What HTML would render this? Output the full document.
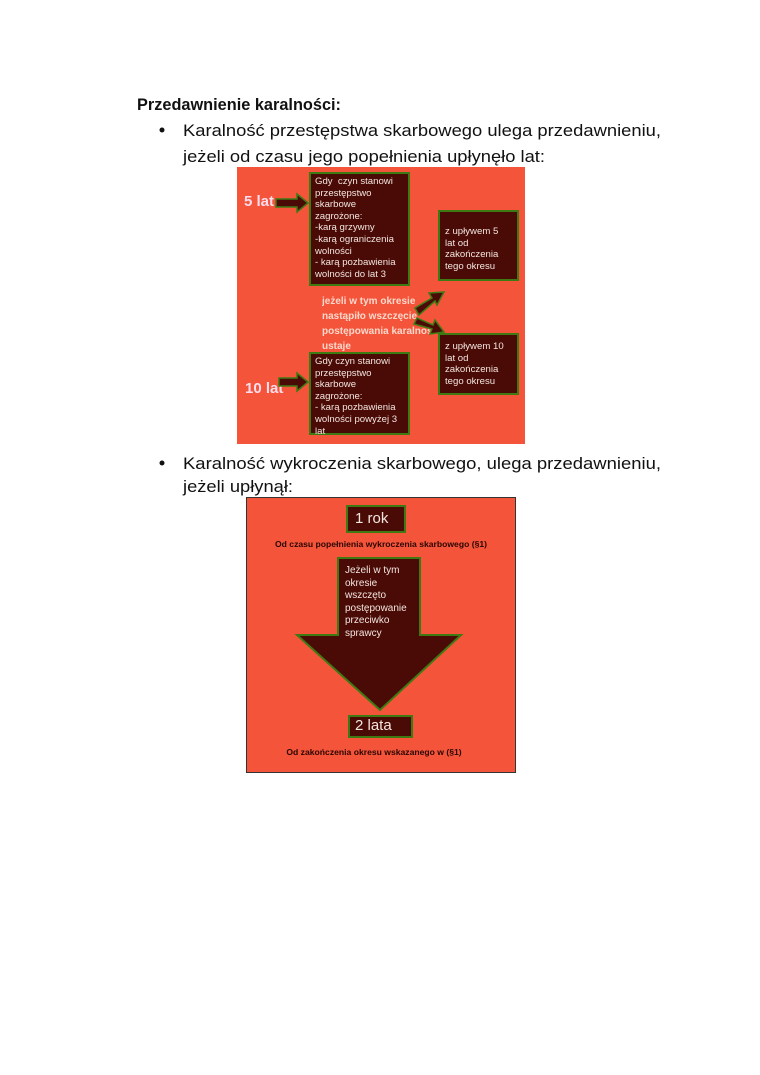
<!DOCTYPE html>
<html><head><meta charset="utf-8"><style>
body{margin:0;width:760px;height:1075px;background:#fff;position:relative;overflow:hidden;font-family:"Liberation Sans",sans-serif}
.a{position:absolute}
.box{position:absolute;background:#4a0a06;border:2px solid #3d7a12;box-sizing:border-box;color:#f3e6df;font-size:9.6px;line-height:11.6px;padding:2px 4px}
.w{color:#fde;font-weight:bold;font-size:15px}
</style></head><body>
<svg class="a" style="left:0;top:0" width="760" height="500">
<g font-family="Liberation Sans, sans-serif" font-size="17" fill="#111">
<text x="137" y="110" font-weight="bold" textLength="204" lengthAdjust="spacingAndGlyphs">Przedawnienie karalności:</text>
<circle cx="162" cy="130" r="2.5"/>
<text x="183" y="136" textLength="478" lengthAdjust="spacingAndGlyphs">Karalność przestępstwa skarbowego ulega przedawnieniu,</text>
<text x="183" y="162" textLength="362" lengthAdjust="spacingAndGlyphs">jeżeli od czasu jego popełnienia upłynęło lat:</text>
<circle cx="162" cy="463" r="2.5"/>
<text x="183" y="469" textLength="478" lengthAdjust="spacingAndGlyphs">Karalność wykroczenia skarbowego, ulega przedawnieniu,</text>
<text x="183" y="492" textLength="110" lengthAdjust="spacingAndGlyphs">jeżeli upłynął:</text>
</g></svg>

<div class="a" style="left:237px;top:167px;width:288px;height:277px;background:#f4553a"></div>
<div class="a w" style="left:244px;top:193px">5 lat</div>
<div class="a w" style="left:245px;top:380px">10 lat</div>
<div class="box" style="left:309px;top:172px;width:101px;height:114px">Gdy&nbsp; czyn stanowi przestępstwo skarbowe zagrożone:<br>-karą grzywny<br>-karą ograniczenia wolności<br>- karą pozbawienia wolności do lat 3</div>
<div class="box" style="left:438px;top:210px;width:81px;height:71px;padding:14px 8px 0 5px">z upływem 5 lat od zakończenia tego okresu</div>
<div class="box" style="left:438px;top:333px;width:81px;height:62px;padding:6px 8px 0 5px">z upływem 10 lat od zakończenia tego okresu</div>
<div class="box" style="left:309px;top:352px;width:101px;height:83px">Gdy czyn stanowi przestępstwo skarbowe zagrożone:<br>- karą pozbawienia wolności powyżej 3 lat</div>
<div class="a" style="left:322px;top:294px;color:#fbd8cc;font-size:10px;line-height:15px;font-weight:bold;width:125px;overflow:hidden;white-space:nowrap">jeżeli w tym okresie<br>nastąpiło wszczęcie<br>postępowania karalność<br>ustaje</div>
<svg class="a" style="left:237px;top:167px" width="288" height="277">
<g fill="#4a0a06" stroke="#3d7a12" stroke-width="1.5">
<polygon points="39,32 60,32 60,27 71,36 60,45 60,40 39,40"/>
<polygon points="42,211 60,211 60,206 71,215 60,224 60,219 42,219"/>
<polygon points="178,141 195,131 192,126 207,125 200,138 198,134 182,148"/>
<polygon points="180,151 196,158 198,153 207,165 193,167 195,162 177,157"/>
</g></svg>

<div class="a" style="left:246px;top:497px;width:270px;height:276px;background:#f4553a;border:1px solid #333;box-sizing:border-box"></div>
<div class="box" style="left:346px;top:505px;width:60px;height:28px;font-size:15px;line-height:22px;padding:1px 0 0 7px">1 rok</div>
<div class="a" style="left:246px;top:539px;width:270px;text-align:center;font-size:8.6px;font-weight:bold;color:#2a0500">Od czasu popełnienia wykroczenia skarbowego (§1)</div>
<svg class="a" style="left:246px;top:497px" width="270" height="276">
<polygon points="92,61 174,61 174,138 215,138 134,213 51,138 92,138" fill="#4a0a06" stroke="#3d7a12" stroke-width="2"/>
</svg>
<div class="a" style="left:345px;top:565px;color:#f3e6df;font-size:10px;line-height:12.5px">Jeżeli w tym<br>okresie<br>wszczęto<br>postępowanie<br>przeciwko<br>sprawcy</div>
<div class="box" style="left:348px;top:715px;width:65px;height:23px;font-size:15px;line-height:18px;padding:0 0 0 5px">2 lata</div>
<div class="a" style="left:246px;top:747px;width:256px;text-align:center;font-size:8.6px;font-weight:bold;color:#2a0500">Od zakończenia okresu wskazanego w (§1)</div>
</body></html>
